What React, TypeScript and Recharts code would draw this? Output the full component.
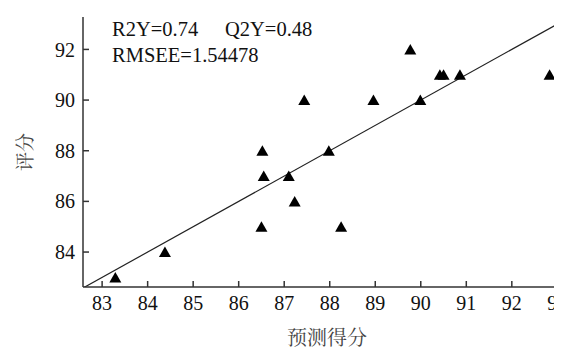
import { ScatterChart, Scatter, XAxis, YAxis, ReferenceLine, Label } from 'recharts';

// predicted score (x) vs actual score (y)
const predicted = [83.29, 84.38, 86.5, 86.52, 86.55, 87.1, 87.23, 87.44, 87.98, 88.25, 88.96, 89.77, 89.99, 90.42, 90.5, 90.86, 92.83];
const actual = [83, 84, 85, 88, 87, 87, 86, 90, 88, 85, 90, 92, 90, 91, 91, 91, 91];

const xTicks = [83, 84, 85, 86, 87, 88, 89, 90, 91, 92, 93];
const yTicks = [84, 86, 88, 90, 92];

const xDomain: [number, number] = [82.58, 93.3];
const yDomain: [number, number] = [82.62, 93.28];

// fitted line y = x
const fitLine = [
  { x: 82.58, y: 82.58 },
  { x: 93.28, y: 93.28 },
];

const data = predicted.map((x, i) => ({ x, y: actual[i] }));

const serif = "'Liberation Serif', 'DejaVu Serif', serif";
const cjk = "'Noto Serif CJK SC', 'Noto Sans CJK SC', serif";

const Triangle = (props: any) => {
  const { cx, cy } = props;
  return (
    <polygon
      points={`${cx},${cy - 5.5} ${cx + 6},${cy + 5} ${cx - 6},${cy + 5}`}
      fill="#000"
    />
  );
};

const YTitle = (props: any) => {
  const { x, y, height } = props.viewBox;
  const cx = x + 15;
  const cy = y + height / 2;
  return (
    <text
      x={cx}
      y={cy}
      transform={`rotate(-90, ${cx}, ${cy})`}
      textAnchor="middle"
      dominantBaseline="central"
      style={{ fontFamily: cjk, fontSize: 19, fill: '#444' }}
    >
      评分
    </text>
  );
};

const noteStyle = { fontFamily: serif, fontSize: 20.5, fill: '#111' };

export default function App() {
  return (
    <div style={{ width: 554, height: 342, overflow: 'hidden', fontFamily: serif }}>
      <ScatterChart
        width={600}
        height={342}
        margin={{ top: 9, right: 37, left: 0, bottom: 0 }}
        style={{ fontFamily: serif }}
      >
        <XAxis
          type="number"
          dataKey="x"
          domain={xDomain}
          ticks={xTicks}
          allowDataOverflow
          height={63}
          tickSize={-6}
          tickMargin={15}
          stroke="#333"
          strokeWidth={1.5}
          tick={{ fontSize: 20, fill: '#111', style: { fontFamily: serif } }}
        >
          <Label
            value="预测得分"
            position="insideBottom"
            offset={5}
            style={{ fontFamily: cjk, fontSize: 20, fill: '#444' }}
          />
        </XAxis>
        <YAxis
          type="number"
          dataKey="y"
          domain={yDomain}
          ticks={yTicks}
          allowDataOverflow
          width={75}
          tickSize={-6}
          tickMargin={14}
          stroke="#333"
          strokeWidth={1.5}
          tick={{ fontSize: 20, fill: '#111', style: { fontFamily: serif } }}
          label={<YTitle />}
        />
        <ReferenceLine
          segment={fitLine}
          stroke="#222"
          strokeWidth={1.2}
          ifOverflow="hidden"
        />
        <Scatter data={data} shape={<Triangle />} isAnimationActive={false} />
        <text x={104} y={28} style={noteStyle}>
          R2Y=0.74
        </text>
        <text x={217} y={28} style={noteStyle}>
          Q2Y=0.48
        </text>
        <text x={104} y={54} style={noteStyle}>
          RMSEE=1.54478
        </text>
      </ScatterChart>
    </div>
  );
}
